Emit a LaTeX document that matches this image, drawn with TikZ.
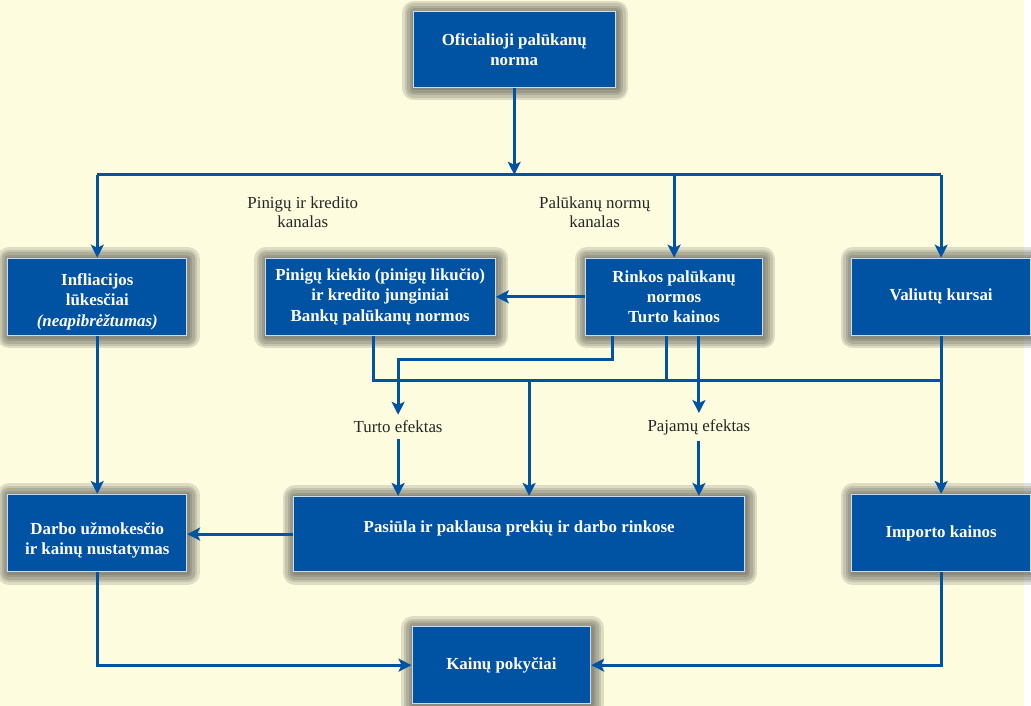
\documentclass[tikz,border=0pt]{standalone}
\usepackage{fontspec}
\setmainfont{Liberation Serif}
\usetikzlibrary{positioning,arrows.meta}
\definecolor{bankblue}{HTML}{0052A2}
\definecolor{paper}{HTML}{FEFCDE}
\definecolor{shadowc}{HTML}{46463E}

\begin{document}
\begin{tikzpicture}[x=1pt,y=-1pt]

	\tikzset{
		shade layer/.style={preaction={draw=shadowc, line width=#1,
				line join=round, opacity=.17,
				transform canvas={shift={(1pt,-1pt)}}}},
		box/.style={
			shade layer=24pt, shade layer=19pt, shade layer=14pt,
			shade layer=9pt, shade layer=4pt,
			draw=white!80!bankblue, line width=1pt,
			fill=bankblue, text=white,
			font=\bfseries\fontsize{17}{20.5}\selectfont,
			align=center, inner sep=0pt, anchor=center,
			minimum height=#1
		},
		box/.default=78pt,
		link/.style={draw=bankblue, line width=3pt},
		arr/.style={link, -{Stealth[length=13pt,width=13pt,inset=3pt]}},
		note/.style={text=black!85, font=\fontsize{17}{19}\selectfont,
			align=center, inner sep=6pt}
	}

	\fill[paper] (0,0) rectangle (1031,711);

	% boxes
	\node[box, minimum width=204pt, minimum height=76pt] (ofic) at (518,50) {Oficialioji palūkanų\\norma};
	\node[box, minimum width=180pt, text height=63pt] (infl) at (98,299) {Infliacijos\\lūkesčiai\\\textit{(neapibrėžtumas)}};
	\node[box, minimum width=232pt] (pinig) at (383,299) {Pinigų kiekio (pinigų likučio)\\ir kredito junginiai\\Bankų palūkanų normos};
	\node[box, minimum width=178pt] (rinkos) at (679,299) {Rinkos palūkanų\\normos\\Turto kainos};
	\node[box, minimum width=180pt] (valiut) at (948,299) {Valiutų kursai};
	\node[box, minimum width=180pt, text height=47pt] (darbo) at (98,537) {Darbo užmokesčio\\ir kainų nustatymas};
	\node[box=76pt, minimum width=454pt, text depth=15pt] (pasiula) at (523,538) {Pasiūla ir paklausa prekių ir darbo rinkose};
	\node[box, minimum width=180pt] (importo) at (948,537) {Importo kainos};
	\node[box=77pt, minimum width=180pt] (kainu) at (505,670) {Kainų pokyčiai};

	% texts
	\node[note] (kanal1) at (305,214) {Pinigų ir kredito\\kanalas};
	\node[note] (kanal2) at (599,214) {Palūkanų normų\\kanalas};
	\node[note] (turto) at (401,430) {Turto efektas};
	\node[note] (pajamu) at (704,430) {Pajamų efektas};

	\coordinate (bus) at (0,176);
	\coordinate (mid) at (0,383);
	\coordinate (turn) at (0,362);
	\coordinate (drop) at (533,383);

	% connectors
	\draw[arr] (ofic.south) -- (ofic.south |- bus);
	\draw[link] (infl.north |- bus) -- (valiut.north |- bus);
	\draw[arr] (infl.north |- bus) -- (infl.north);
	\draw[arr] (rinkos.north |- bus) -- (rinkos.north);
	\draw[arr] (valiut.north |- bus) -- (valiut.north);
	\draw[arr] (rinkos.west) -- (pinig.east);
	\draw[arr] (infl.south) -- (darbo.north);
	\draw[arr] (pasiula.west) -- (pasiula.west -| darbo.east);
	\draw[arr] (darbo.south) |- (kainu.west);
	\draw[arr] (importo.south) |- (kainu.east);

	\draw[link] ([xshift=-7pt]pinig.south) |- (valiut.south |- mid);
	\draw[arr] (valiut.south) -- (importo.north);
	\draw[arr] ([xshift=27pt]rinkos.south west) |- (turto.north |- turn) -- (turto.north);
	\draw[link] ([xshift=82pt]rinkos.south west) coordinate (r2) -- (r2 |- mid);
	\draw[arr] (pajamu.north |- rinkos.south) -- (pajamu.north);
	\draw[arr] (drop) -- (drop |- pasiula.north);
	\draw[arr] (turto.south) -- (turto.south |- pasiula.north);
	\draw[arr] (pajamu.south) -- (pajamu.south |- pasiula.north);

\end{tikzpicture}
\end{document}
